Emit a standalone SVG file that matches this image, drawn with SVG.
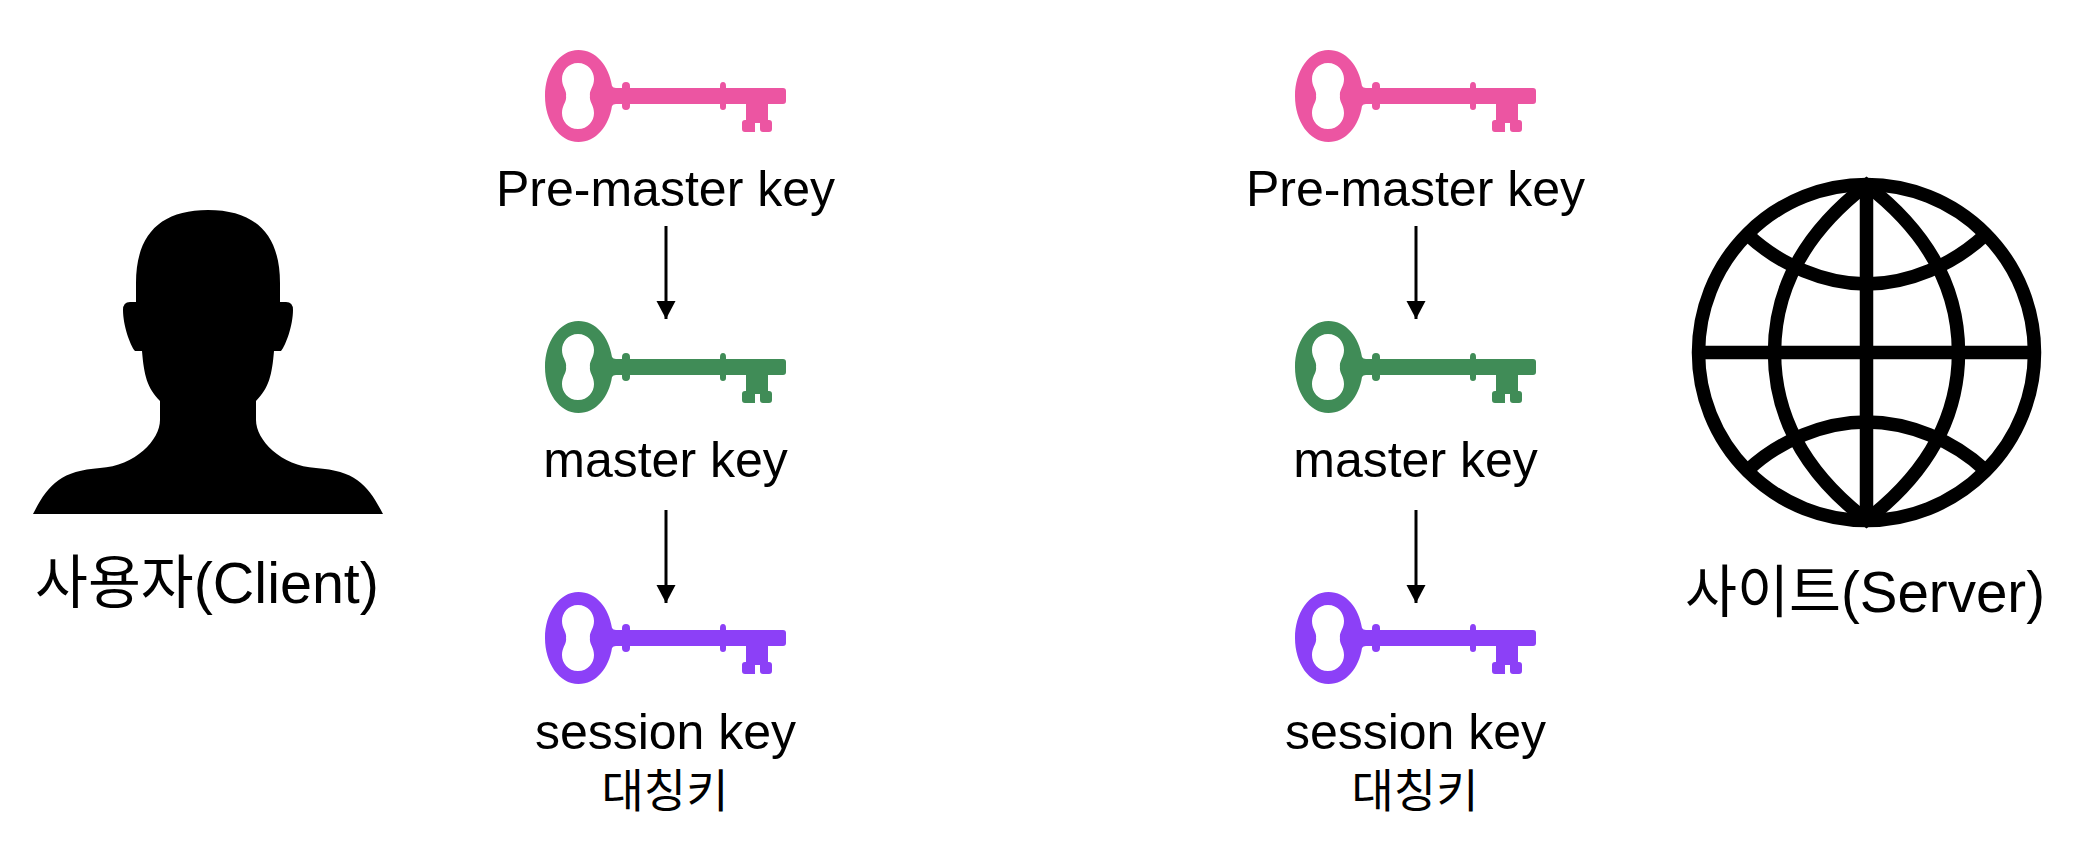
<svg xmlns="http://www.w3.org/2000/svg" width="2088" height="864" viewBox="0 0 2088 864">
<style>
text{font-family:"Liberation Sans","Noto Sans CJK KR",sans-serif;fill:#000;text-anchor:middle}
.k{font-size:50px}
.c{font-size:46px}
.n{font-size:56.5px}
.a{stroke:#000;stroke-width:3;fill:none;marker-end:url(#h)}
.g{fill:none;stroke:#000;stroke-width:13.5}
.pink{fill:#EC55A2}.green{fill:#408C57}.purple{fill:#8C40F7}
</style>
<defs>
<marker id="h" markerUnits="userSpaceOnUse" markerWidth="20" markerHeight="20" refX="19" refY="10" orient="auto"><path d="M1 0.5L19 10L1 19.5Z" fill="#000"/></marker>
<path id="key" fill-rule="evenodd" d="M578.5 50C596 50 609 66 612 86Q613 88 616 88L622 88L622 86Q622 82 626 82Q630 82 630 86L630 88L720 88L720 86Q720 82 723 82Q726 82 726 86L726 88L783 88Q786 88 786 91L786 101Q786 104 783 104L768 104L768 120L769 120Q772 120 772 123L772 129Q772 132 769 132L763 132Q760 132 760 129L760 123L755 123L755 132L745 132Q742 132 742 129L742 123Q742 120 745 120L746 120L746 104L726 104L726 107Q726 110 723 110Q720 110 720 107L720 104L630 104L630 106Q630 110 626 110Q622 110 622 106L622 104L616 104Q613 104 612 106C609 126 596 142 578.5 142C559 142 545 121 545 96C545 71 559 50 578.5 50ZM578 63C568 63 562 71 562 79C562 87 567 90 566 96C567 102 562 105 562 113C562 121 568 129 578 129C588 129 594 121 594 113C594 105 589 102 590 96C589 90 594 87 594 79C594 71 588 63 578 63Z"/>
</defs>
<g id="connectors">
<line class="a" x1="666" y1="226" x2="666" y2="319"/>
<line class="a" x1="666" y1="510" x2="666" y2="603"/>
<line class="a" x1="1416" y1="226" x2="1416" y2="319"/>
<line class="a" x1="1416" y1="510" x2="1416" y2="603"/>
</g>
<g id="client">
<path d="M33 514C48 485 60 471 100 468C135 466 160 440 160 420L160 401C147 388 144 375 142 351L135 351C130 345 123 325 123 310Q123 302 130 302L136 302L136 283C136 235 160 210 208 210C256 210 280 235 280 283L280 302L286 302Q293 302 293 310C293 325 286 345 281 351L274 351C272 375 269 388 256 401L256 420C256 440 281 466 316 468C356 471 368 485 383 514Z"/>
<text class="n" x="207" y="603" style="font-size:57.5px">사용자(Client)</text>
</g>
<g id="server">
<circle class="g" cx="1866.5" cy="352.5" r="168"/>
<path class="g" d="M1866.5 185C1808 230 1774.5 285 1774.5 352.5C1774.5 420 1808 475 1866.5 520C1925 475 1958.5 420 1958.5 352.5C1958.5 285 1925 230 1866.5 185Z"/>
<line class="g" x1="1866.5" y1="185" x2="1866.5" y2="520"/>
<line class="g" x1="1698" y1="352.5" x2="2035" y2="352.5"/>
<path class="g" d="M1748 235C1780 265 1825 284 1866.5 284C1908 284 1953 265 1985 235"/>
<path class="g" d="M1748 470C1780 440 1825 422 1866.5 422C1908 422 1953 440 1985 470"/>
<text class="n" x="1865" y="612">사이트(Server)</text>
</g>
<g id="client-pre-master"><use href="#key" class="pink"/><text class="k" x="665.5" y="206">Pre-master key</text></g>
<g id="client-master"><use href="#key" class="green" y="271"/><text class="k" x="665.5" y="477">master key</text></g>
<g id="client-session"><use href="#key" class="purple" y="542"/><text class="k" x="665.5" y="749">session key</text><text class="c" x="665" y="807">대칭키</text></g>
<g id="server-pre-master"><use href="#key" class="pink" x="750"/><text class="k" x="1415.5" y="206">Pre-master key</text></g>
<g id="server-master"><use href="#key" class="green" x="750" y="271"/><text class="k" x="1415.5" y="477">master key</text></g>
<g id="server-session"><use href="#key" class="purple" x="750" y="542"/><text class="k" x="1415.5" y="749">session key</text><text class="c" x="1415" y="807">대칭키</text></g>
</svg>
